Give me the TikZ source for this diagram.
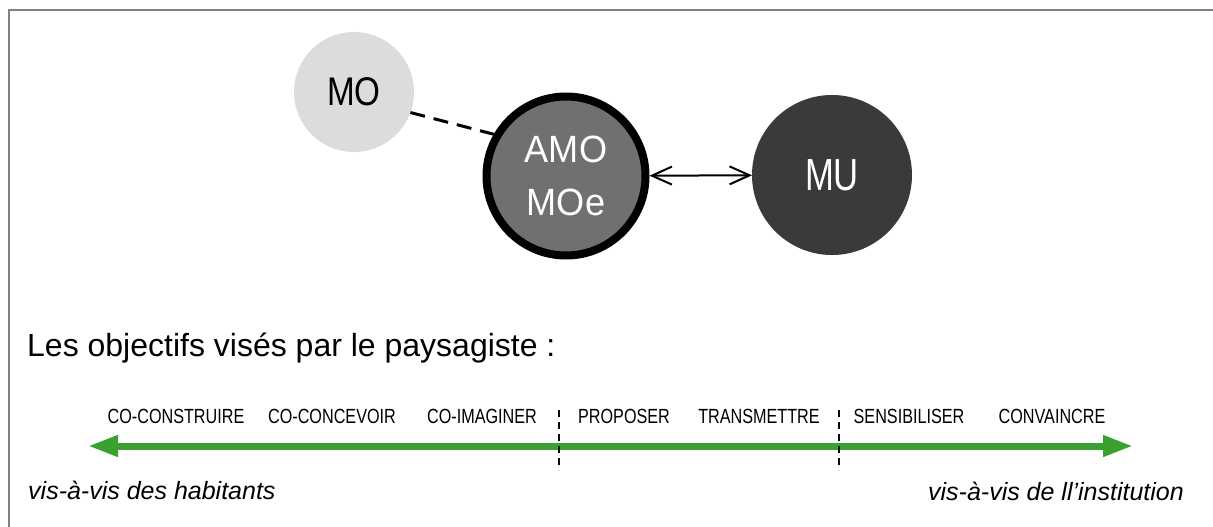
\documentclass[tikz,border=0pt]{standalone}
\usepackage{fontspec}
\setmainfont{Liberation Sans}
\usetikzlibrary{arrows.meta}
\definecolor{framegray}{RGB}{128,128,128}
\definecolor{molight}{RGB}{220,220,222}
\definecolor{amogray}{RGB}{112,112,114}
\definecolor{mudark}{RGB}{58,58,60}
\definecolor{axisgreen}{RGB}{58,160,48}
\newcommand{\fsz}[1]{\fontsize{#1}{#1}\selectfont}
\begin{document}
\begin{tikzpicture}[x=1pt,y=-1pt,
  actor/.style={circle, inner sep=0pt, outer sep=0pt, align=center},
  verb/.style={font=\fsz{20.5}, inner sep=0pt},
  side/.style={font=\fsz{25}\itshape, inner sep=0pt},
  barbs/.style={{Straight Barb[length=20pt,width=18pt]}-{Straight Barb[length=20pt,width=18pt]}, line width=2pt},
  axis/.style={axisgreen, line width=7pt, {Triangle[length=30pt,width=20pt]}-{Triangle[length=30pt,width=20pt]}},
  sep/.style={black, line width=1.5pt, dash pattern=on 7pt off 5pt},
]
\useasboundingbox (0,0) rectangle (1213,527);
\fill[white] (0,0) rectangle (1213,527);
\draw[framegray, line width=2pt] (8.5,527) -- (8.5,10.5) -- (1213,10.5);

\node[actor, fill=molight, minimum size=120pt, font=\fsz{40}] (mo) at (354,92) {\scalebox{0.83}[1]{MO}};
\node[actor, fill=amogray, draw=black, line width=8pt, outer sep=4pt, minimum size=159pt, text=white, font=\fontsize{38}{53}\selectfont] (amo) at (566,176) {\scalebox{0.95}[1]{AMO}\\\scalebox{0.95}[1]{MOe}};
\node[actor, fill=mudark, minimum size=160pt, text=white, font=\fsz{45}] (mu) at (832,175) {\scalebox{0.77}[1]{MU}};

\draw[line width=3pt, dash pattern=on 15pt off 9pt] (mo.-20) -- (amo.150);
\draw[barbs] (amo) -- (mu);

\node[anchor=base west, inner sep=0pt, font=\fsz{32}] (title) at (27,356) {Les objectifs visés par le paysagiste :};

\coordinate (axL) at (88,446);
\coordinate (axR) at (1133,446);
\draw[axis] (axL) -- (axR);

\coordinate (s1t) at (559,410);
\coordinate (s1b) at (559,470);
\coordinate (s2t) at (839,410);
\coordinate (s2b) at (839,470);
\draw[sep] (s1t) -- (s1b);
\draw[sep] (s2t) -- (s2b);

\node[verb] (v1) at (176,416) {\scalebox{0.79}[1]{CO-CONSTRUIRE}};
\node[verb] (v2) at (332,416) {\scalebox{0.79}[1]{CO-CONCEVOIR}};
\node[verb] (v3) at (482,416) {\scalebox{0.79}[1]{CO-IMAGINER}};
\node[verb] (v4) at (624,416) {\scalebox{0.79}[1]{PROPOSER}};
\node[verb] (v5) at (759,416) {\scalebox{0.79}[1]{TRANSMETTRE}};
\node[verb] (v6) at (909,416) {\scalebox{0.79}[1]{SENSIBILISER}};
\node[verb] (v7) at (1052,416) {\scalebox{0.79}[1]{CONVAINCRE}};

\node[side, anchor=base west] (hab) at (28,499) {vis-à-vis des habitants};
\node[side, anchor=base east] (inst) at (1184,500) {vis-à-vis de ll’institution};
\end{tikzpicture}
\end{document}
